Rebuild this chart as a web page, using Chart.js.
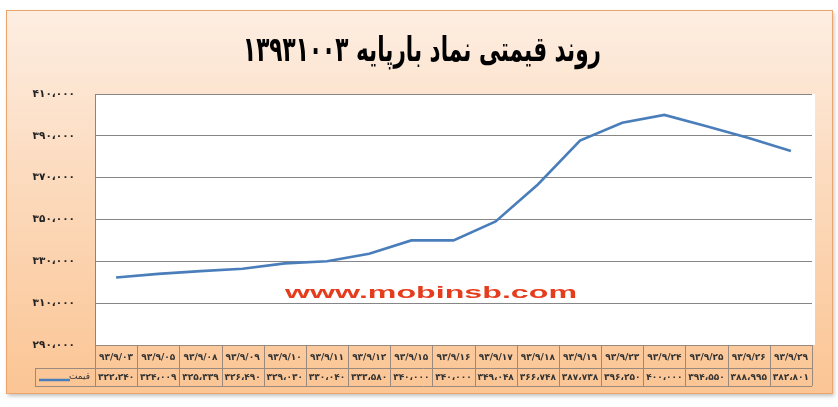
<!DOCTYPE html>
<html>
<head>
<meta charset="utf-8">
<script src="https://cdn.jsdelivr.net/npm/chart.js@4/dist/chart.umd.min.js"></script>
<style>
  html, body { margin: 0; padding: 0; background: #fff; }
  #wrap { width: 838px; height: 407px; }
</style>
</head>
<body>
<div id="wrap"><canvas id="chartQimat"></canvas></div>
<script>
const dates = ['93/9/03', '93/9/05', '93/9/08', '93/9/09', '93/9/10', '93/9/11', '93/9/12', '93/9/15',
    '93/9/16', '93/9/17', '93/9/18', '93/9/19', '93/9/23', '93/9/24', '93/9/25', '93/9/26', '93/9/29'];
const prices = [322240, 324009, 325339, 326490, 329030, 330040, 333580, 340000,
    340000, 349048, 366748, 387738, 396250, 400000, 394550, 388995, 382801];
const yRange = [290000, 410000];
const yStep = 20000;
const chartTitle = 'روند قیمتی نماد بارپایه ۱۳۹۳۱۰۰۳';
const seriesName = 'قیمت';
const watermark = 'www.mobinsb.com';

const faDigits = '۰۱۲۳۴۵۶۷۸۹';
const toFa = (s) => String(s).replace(/[0-9]/g, (d) => faDigits[d]);
const fmt = (n) => toFa(Math.round(n).toString().replace(/\B(?=(\d{3})+(?!\d))/g, '،'));

const FONT = '"DejaVu Sans", "Noto Sans", sans-serif';
const lineColor = '#4a7ebb';
const tableLine = '#9a8a7e';

const backdrop = {
    id: 'backdrop',
    beforeDraw(chart) {
        const { ctx, chartArea, width, height } = chart;
        ctx.save();
        ctx.fillStyle = '#fff';
        ctx.fillRect(0, 0, width, height);

        // outer peach frame
        ctx.shadowColor = 'rgba(0,0,0,.25)';
        ctx.shadowBlur = 4;
        ctx.shadowOffsetX = 1;
        ctx.shadowOffsetY = 2;
        const g = ctx.createLinearGradient(0, 10, 0, 393);
        g.addColorStop(0, '#fdeee2');
        g.addColorStop(0.45, '#fcdabd');
        g.addColorStop(1, '#fbc594');
        ctx.fillStyle = g;
        ctx.fillRect(6.5, 10.5, 826, 383);
        ctx.shadowColor = 'transparent';
        ctx.strokeStyle = '#eaa46c';
        ctx.lineWidth = 1;
        ctx.strokeRect(6.5, 10.5, 826, 383);

        // white plot area
        ctx.fillStyle = '#fff';
        ctx.fillRect(chartArea.left, chartArea.top, chartArea.right - chartArea.left + 3, chartArea.bottom - chartArea.top);
        ctx.restore();
    },
};

const overlays = {
    id: 'overlays',
    afterDraw(chart) {
        const { ctx, chartArea } = chart;
        const x = chart.scales.x;
        ctx.save();

        // title
        ctx.fillStyle = '#000';
        ctx.font = `bold 30px ${FONT}`;
        ctx.direction = 'rtl';
        ctx.textAlign = 'center';
        ctx.textBaseline = 'middle';
        const tw = ctx.measureText(chartTitle).width;
        ctx.save();
        ctx.translate(422, 52);
        ctx.scale(358 / tw, 1.15);
        ctx.fillText(chartTitle, 0, 0);
        ctx.restore();
        ctx.direction = 'ltr';

        // watermark
        ctx.fillStyle = '#e63c1e';
        ctx.font = 'bold 17px "Liberation Sans", Arial, sans-serif';
        const ww = ctx.measureText(watermark).width;
        ctx.save();
        ctx.translate(431, 293);
        ctx.scale(292 / ww, 1);
        ctx.fillText(watermark, 0, 0);
        ctx.restore();

        // data table
        const half = (x.getPixelForValue(1) - x.getPixelForValue(0)) / 2;
        const left = chartArea.left;
        const right = x.getPixelForValue(dates.length - 1) + half;
        const y0 = chartArea.bottom;
        const y1 = y0 + 23;
        const y2 = y1 + 18;
        const legendLeft = 35;

        ctx.strokeStyle = tableLine;
        ctx.lineWidth = 1;
        ctx.beginPath();
        ctx.moveTo(left, y0 + 0.5); ctx.lineTo(right, y0 + 0.5);
        ctx.moveTo(legendLeft, y1 + 0.5); ctx.lineTo(right, y1 + 0.5);
        ctx.moveTo(legendLeft, y2 + 0.5); ctx.lineTo(right, y2 + 0.5);
        ctx.moveTo(legendLeft + 0.5, y1); ctx.lineTo(legendLeft + 0.5, y2);
        dates.forEach((_, i) => {
            const bx = Math.round(x.getPixelForValue(i) - half) + 0.5;
            ctx.moveTo(bx, y0); ctx.lineTo(bx, y2);
        });
        ctx.moveTo(Math.round(right) + 0.5, y0); ctx.lineTo(Math.round(right) + 0.5, y2);
        ctx.stroke();

        ctx.fillStyle = '#333';
        ctx.font = `bold 9px ${FONT}`;
        ctx.textAlign = 'center';
        ctx.textBaseline = 'middle';
        dates.forEach((d, i) => {
            const cx = x.getPixelForValue(i);
            ctx.fillText(toFa(d), cx, (y0 + y1) / 2 + 1);
            ctx.fillText(fmt(prices[i]), cx, (y1 + y2) / 2 + 1);
        });

        // legend cell
        ctx.strokeStyle = lineColor;
        ctx.lineWidth = 2.5;
        ctx.beginPath();
        ctx.moveTo(39, y1 + 12); ctx.lineTo(70, y1 + 12);
        ctx.stroke();
        ctx.fillStyle = '#333';
        ctx.font = `9px ${FONT}`;
        ctx.direction = 'rtl';
        ctx.textAlign = 'right';
        ctx.fillText(seriesName, 90, (y1 + y2) / 2);
        ctx.restore();
    },
};

new Chart(document.getElementById('chartQimat'), {
    type: 'line',
    data: {
        labels: dates,
        datasets: [{
            label: seriesName,
            data: prices,
            borderColor: lineColor,
            borderWidth: 2.6,
            pointRadius: 0,
            tension: 0,
            fill: false,
        }],
    },
    plugins: [backdrop, overlays],
    options: {
        responsive: true,
        maintainAspectRatio: false,
        animation: false,
        devicePixelRatio: 1,
        layout: { padding: { top: 94, right: 26, bottom: 62, left: 0 } },
        plugins: {
            legend: { display: false },
            title: { display: false },
            tooltip: { enabled: false },
        },
        scales: {
            x: {
                display: false,
                offset: true,
            },
            y: {
                min: yRange[0],
                max: yRange[1],
                afterFit: (scale) => { scale.width = 95; },
                ticks: {
                    stepSize: yStep,
                    padding: 20,
                    color: '#222',
                    font: { family: FONT, size: 10.5, weight: 'bold' },
                    callback: (v) => fmt(v),
                },
                grid: { color: '#868686', lineWidth: 1, drawTicks: false },
                border: { display: true, color: '#868686' },
            },
        },
    },
});
</script>
</body>
</html>
